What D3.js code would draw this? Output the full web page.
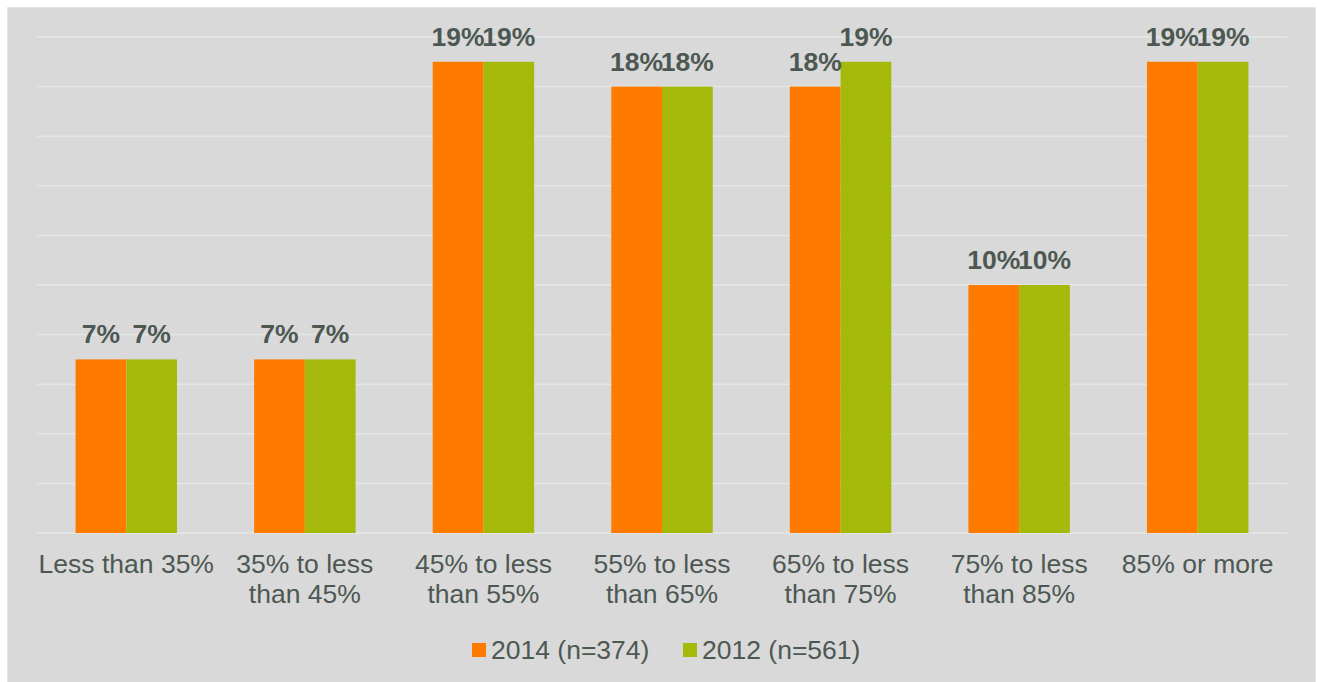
<!DOCTYPE html>
<html>
<head>
<meta charset="utf-8">
<script src="https://cdn.jsdelivr.net/npm/d3@7"></script>
<style>
  html, body { margin: 0; padding: 0; background: #ffffff; }
  svg { display: block; }
</style>
</head>
<body>
<svg id="chart" width="1317" height="682"></svg>
<script>
// Score bands and survey shares for each year
const categories = [
  ["Less than 35%"],
  ["35% to less", "than 45%"],
  ["45% to less", "than 55%"],
  ["55% to less", "than 65%"],
  ["65% to less", "than 75%"],
  ["75% to less", "than 85%"],
  ["85% or more"]
];
const seriesNames = ["2014 (n=374)", "2012 (n=561)"];
const values2014 = [7, 7, 19, 18, 18, 10, 19];
const values2012 = [7, 7, 19, 18, 19, 10, 19];
const gridTicks = [0, 2, 4, 6, 8, 10, 12, 14, 16, 18, 20];

const colors = ["#ff7b00", "#a5b90a"];
const textColor = "#4d5853";
const font = "'Liberation Sans', Arial, sans-serif";
const fontSize = 26.5;

const svg = d3.select("#chart");
const W = 1317, H = 682;

// panel background
svg.append("rect")
  .attr("x", 7.5).attr("y", 7.5)
  .attr("width", W - 9).attr("height", H - 7)
  .attr("fill", "#d9d9d9")
  .attr("stroke", "#e2e6e4").attr("stroke-width", 1);

const plot = { left: 37, right: 1287, top: 37, bottom: 533 };

const x0 = d3.scaleBand()
  .domain(d3.range(categories.length))
  .range([plot.left, plot.right])
  .paddingInner(0)
  .paddingOuter(0);

// two bars per band, gap between bands about 0.43 of the band
const x1 = d3.scaleBand()
  .domain([0, 1])
  .range([0, x0.bandwidth()])
  .paddingInner(0)
  .paddingOuter(0.76);

const y = d3.scaleLinear().domain([0, 20]).range([plot.bottom, plot.top]);

// gridlines
svg.append("g")
  .selectAll("line")
  .data(gridTicks)
  .join("line")
  .attr("x1", plot.left).attr("x2", plot.right)
  .attr("y1", d => y(d)).attr("y2", d => y(d))
  .attr("stroke", "#e3e7e5").attr("stroke-width", 1.5);

const series = [values2014, values2012];

const groups = svg.append("g")
  .selectAll("g")
  .data(categories)
  .join("g")
  .attr("transform", (d, i) => `translate(${x0(i)},0)`);

groups.each(function (cat, i) {
  const g = d3.select(this);
  series.forEach((vals, s) => {
    g.append("rect")
      .attr("x", x1(s))
      .attr("y", y(vals[i]))
      .attr("width", x1.bandwidth())
      .attr("height", y(0) - y(vals[i]))
      .attr("fill", colors[s]);
  });
  series.forEach((vals, s) => {
    g.append("text")
      .attr("x", x1(s) + x1.bandwidth() / 2)
      .attr("y", y(vals[i]) - 16)
      .attr("text-anchor", "middle")
      .attr("font-family", font)
      .attr("font-weight", "bold")
      .attr("font-size", fontSize)
      .attr("fill", textColor)
      .text(vals[i] + "%");
  });
  const t = g.append("text")
    .attr("x", x0.bandwidth() / 2)
    .attr("y", 573)
    .attr("text-anchor", "middle")
    .attr("font-family", font)
    .attr("font-size", fontSize)
    .attr("fill", textColor);
  cat.forEach((line, k) => {
    t.append("tspan")
      .attr("x", x0.bandwidth() / 2)
      .attr("dy", k === 0 ? 0 : 30)
      .text(line);
  });
});

// legend
const legendItems = [
  { x: 472, name: seriesNames[0], color: colors[0] },
  { x: 683, name: seriesNames[1], color: colors[1] }
];
const legend = svg.append("g");
legendItems.forEach(it => {
  legend.append("rect")
    .attr("x", it.x).attr("y", 643)
    .attr("width", 14).attr("height", 14)
    .attr("fill", it.color);
  legend.append("text")
    .attr("x", it.x + 19).attr("y", 659)
    .attr("font-family", font)
    .attr("font-size", fontSize)
    .attr("fill", textColor)
    .text(it.name);
});
</script>
</body>
</html>
